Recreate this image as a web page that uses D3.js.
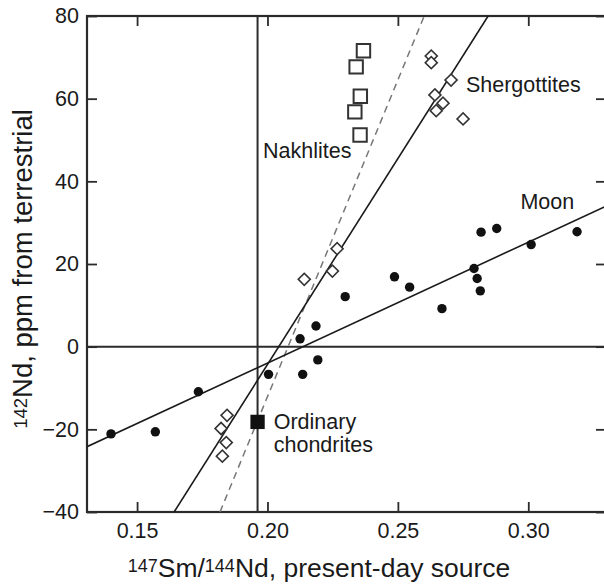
<!DOCTYPE html>
<html>
<head>
<meta charset="utf-8">
<script src="https://cdn.jsdelivr.net/npm/d3@7"></script>
<style>
  body { margin: 0; background: #fff; }
  svg { display: block; }
</style>
</head>
<body>
<div id="chart"></div>
<script>
// Moon samples (filled circles)
const moonX = [0.140, 0.157, 0.1735, 0.2004, 0.2125, 0.2135, 0.2186, 0.2193, 0.2298,
    0.2487, 0.2545, 0.2669, 0.2792, 0.2804, 0.2816, 0.2819, 0.2879, 0.3011, 0.3187]
const moonY = [-21.1, -20.6, -10.9, -6.7, 1.9, -6.7, 5.0, -3.2, 12.1,
    16.9, 14.4, 9.2, 18.9, 16.5, 13.5, 27.7, 28.6, 24.7, 27.8]

// Shergottites (open diamonds)
const sherX = [0.2628, 0.2628, 0.2704, 0.2642, 0.2673, 0.2647, 0.2750,
    0.2267, 0.2249, 0.2141, 0.1845, 0.1822, 0.1842, 0.1827]
const sherY = [70.3, 68.7, 64.5, 60.9, 58.9, 57.1, 55.1,
    23.7, 18.3, 16.3, -16.6, -19.8, -23.2, -26.5]

// Nakhlites (open squares)
const nakhX = [0.2368, 0.2340, 0.2356, 0.2335, 0.2355]
const nakhY = [71.6, 67.7, 60.6, 56.8, 51.2]

// Ordinary chondrites (filled square)
const chondrite = [0.1962, -18.2]

// fitted lines, end points in data units
const moonLine = [[0.1308, -24.2], [0.3295, 33.9]]
const sherLine = [[0.1642, -40], [0.2846, 80]]
const nakhLine = [[0.1818, -40], [0.2601, 80]]

const xTicks = [0.15, 0.20, 0.25, 0.30]
const yTicks = [-40, -20, 0, 20, 40, 60, 80]

const width = 604, height = 585
const margin = {top: 16, right: -2, bottom: 73, left: 87}
const font = "'Liberation Sans', Arial, Helvetica, sans-serif"
const ink = "#2b2b2b"

const x = d3.scaleLinear().domain([0.1308, 0.3298])
    .range([margin.left, width - margin.right])
const y = d3.scaleLinear().domain([-40, 80])
    .range([height - margin.bottom, margin.top])

const svg = d3.select('#chart').append('svg')
    .attr('width', width)
    .attr('height', height)
    .attr('font-family', font)

svg.append('clipPath').attr('id', 'plot-clip')
    .append('rect')
    .attr('x', x.range()[0]).attr('y', y.range()[1])
    .attr('width', x.range()[1] - x.range()[0])
    .attr('height', y.range()[0] - y.range()[1])

// ticks on all four sides, pointing inward
const tickStyle = g => {
    g.select('.domain').remove()
    g.selectAll('.tick line').attr('stroke', ink).attr('stroke-width', 1.8)
    g.selectAll('.tick text').attr('fill', '#1a1a1a').attr('font-size', 21.5)
        .attr('font-family', font)
}

svg.append('g')
    .attr('transform', `translate(0,${y.range()[0]})`)
    .call(d3.axisBottom(x).tickValues(xTicks).tickFormat(d3.format('.2f'))
        .tickSize(-10).tickPadding(11))
    .call(tickStyle)
svg.append('g')
    .attr('transform', `translate(0,${y.range()[1]})`)
    .call(d3.axisTop(x).tickValues(xTicks).tickFormat('').tickSize(-10))
    .call(tickStyle)
svg.append('g')
    .attr('transform', `translate(${x.range()[0]},0)`)
    .call(d3.axisLeft(y).tickValues(yTicks).tickSize(-10).tickPadding(8))
    .call(tickStyle)
svg.append('g')
    .attr('transform', `translate(${x.range()[1]},0)`)
    .call(d3.axisRight(y).tickValues(yTicks).tickFormat('').tickSize(-10))
    .call(tickStyle)

// frame
svg.append('rect')
    .attr('x', x.range()[0]).attr('y', y.range()[1])
    .attr('width', x.range()[1] - x.range()[0])
    .attr('height', y.range()[0] - y.range()[1])
    .attr('fill', 'none').attr('stroke', ink).attr('stroke-width', 2.2)

const plot = svg.append('g').attr('clip-path', 'url(#plot-clip)')

// reference lines: zero and chondritic Sm/Nd
plot.append('line')
    .attr('x1', x.range()[0]).attr('x2', x.range()[1])
    .attr('y1', y(0)).attr('y2', y(0))
    .attr('stroke', ink).attr('stroke-width', 2)
plot.append('line')
    .attr('x1', x(chondrite[0])).attr('x2', x(chondrite[0]))
    .attr('y1', y.range()[0]).attr('y2', y.range()[1])
    .attr('stroke', ink).attr('stroke-width', 2)

const line = d3.line().x(d => x(d[0])).y(d => y(d[1]))

plot.append('path').datum(nakhLine)
    .attr('d', line)
    .attr('fill', 'none').attr('stroke', '#777').attr('stroke-width', 1.5)
    .attr('stroke-dasharray', '7,5')
plot.append('path').datum(sherLine)
    .attr('d', line)
    .attr('fill', 'none').attr('stroke', '#1a1a1a').attr('stroke-width', 1.6)
plot.append('path').datum(moonLine)
    .attr('d', line)
    .attr('fill', 'none').attr('stroke', '#1a1a1a').attr('stroke-width', 1.6)

// moon points
plot.selectAll('circle.moon')
    .data(moonX.map((d, i) => [d, moonY[i]]))
    .join('circle')
    .attr('class', 'moon')
    .attr('cx', d => x(d[0])).attr('cy', d => y(d[1]))
    .attr('r', 4.7)
    .attr('fill', '#111')

// shergottites
const diamond = d3.symbol().type(d3.symbolSquare).size(72)
plot.selectAll('path.sher')
    .data(sherX.map((d, i) => [d, sherY[i]]))
    .join('path')
    .attr('class', 'sher')
    .attr('d', diamond)
    .attr('transform', d => `translate(${x(d[0])},${y(d[1])}) rotate(45)`)
    .attr('fill', '#fff').attr('stroke', '#333').attr('stroke-width', 1.6)

// nakhlites
const square = d3.symbol().type(d3.symbolSquare).size(180)
plot.selectAll('path.nakh')
    .data(nakhX.map((d, i) => [d, nakhY[i]]))
    .join('path')
    .attr('class', 'nakh')
    .attr('d', square)
    .attr('transform', d => `translate(${x(d[0])},${y(d[1])})`)
    .attr('fill', '#fff').attr('stroke', '#333').attr('stroke-width', 2)

// ordinary chondrites
plot.append('path')
    .attr('d', d3.symbol().type(d3.symbolSquare).size(205))
    .attr('transform', `translate(${x(chondrite[0])},${y(chondrite[1])})`)
    .attr('fill', '#111')

// group labels
const labels = [
    {text: 'Nakhlites', x: 0.1983, y: 45.6},
    {text: 'Shergottites', x: 0.2761, y: 61.7},
    {text: 'Moon', x: 0.2970, y: 33.3},
    {text: 'Ordinary', x: 0.2024, y: -19.8},
    {text: 'chondrites', x: 0.2024, y: -25.6}
]
svg.selectAll('text.group-label')
    .data(labels)
    .join('text')
    .attr('class', 'group-label')
    .attr('x', d => x(d.x)).attr('y', d => y(d.y))
    .text(d => d.text)
    .attr('font-size', 21.5)
    .attr('fill', '#1a1a1a')

// axis titles
const xTitle = svg.append('text')
    .attr('x', 319).attr('y', 577)
    .attr('text-anchor', 'middle')
    .attr('font-size', 26.5)
    .attr('fill', '#1a1a1a')
xTitle.append('tspan').text('147').attr('font-size', 18).attr('dy', -5)
xTitle.append('tspan').text('Sm/').attr('dy', 5)
xTitle.append('tspan').text('144').attr('font-size', 18).attr('dy', -5)
xTitle.append('tspan').text('Nd, present-day source').attr('dy', 5)

const yTitle = svg.append('text')
    .attr('transform', 'translate(32,269) rotate(-90)')
    .attr('text-anchor', 'middle')
    .attr('font-size', 27.5)
    .attr('fill', '#1a1a1a')
yTitle.append('tspan').text('142').attr('font-size', 18.5).attr('dy', -5)
yTitle.append('tspan').text('Nd, ppm from terrestrial').attr('dy', 5)
</script>
</body>
</html>
